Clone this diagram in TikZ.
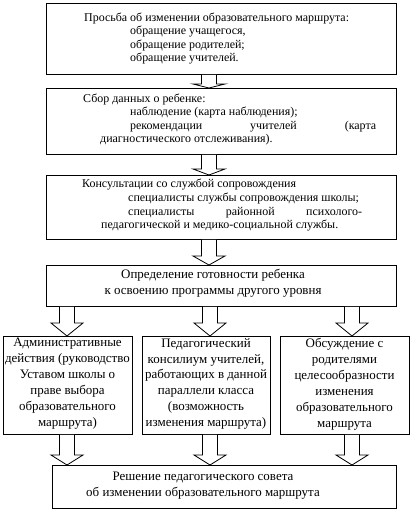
\documentclass[tikz,border=0pt]{standalone}
\usepackage{fontspec}
\setmainfont{Liberation Serif}
\newcommand\fatarrow[4]{%
  \path (#1,0 |- #2.south) coordinate (fa-s) (#1,0 |- #3.north) coordinate (fa-e);
  \draw[fatar] ([xshift=-7.5bp]fa-s) -- ([xshift=-7.5bp,yshift=#4]fa-e)
    -- ([xshift=-16bp,yshift=#4]fa-e) -- (fa-e) -- ([xshift=16bp,yshift=#4]fa-e)
    -- ([xshift=7.5bp,yshift=#4]fa-e) -- ([xshift=7.5bp]fa-s);
}
\begin{document}
\begin{tikzpicture}[x=1bp,y=-1bp,
  box/.style={draw, line width=0.8bp, inner sep=0, anchor=north west},
  tx/.style={inner sep=0, anchor=base west, font=\fontsize{12}{14}\selectfont},
  tc/.style={inner sep=0, anchor=north, align=center, font=\fontsize{13}{16}\selectfont},
  fatar/.style={draw, fill=white, line width=0.8bp, line join=miter}]
\fill[white] (0,0) rectangle (410,513);
\useasboundingbox (0,0) rectangle (410,513);
% boxes
\node[box, minimum width=350bp, minimum height=71bp] (b1) at (46,3) {};
\node[box, minimum width=350bp, minimum height=66bp] (b2) at (46,88) {};
\node[box, minimum width=350bp, minimum height=64bp] (b3) at (46,175) {};
\node[box, minimum width=350bp, minimum height=41bp] (b4) at (46,265) {};
\node[box, minimum width=129bp, minimum height=98bp] (l1) at (3,336) {};
\node[box, minimum width=128bp, minimum height=98bp] (l2) at (142,336) {};
\node[box, minimum width=129bp, minimum height=98bp] (l3) at (280,336) {};
\node[box, minimum width=344bp, minimum height=43bp] (b5) at (52,465) {};
% box 1 text
\node[tx] (t1a) at (84,21.5) {Просьба об изменении образовательного маршрута:};
\node[tx] (t1b) at (130,35) {обращение учащегося,};
\node[tx] (t1c) at (130,48.5) {обращение родителей;};
\node[tx] (t1d) at (130,62) {обращение учителей.};
% box 2 text
\node[tx] (t2a) at (83,102.5) {Сбор данных о ребенке:};
\node[tx] (t2b) at (130,116) {наблюдение (карта наблюдения);};
\node[tx] (t2c) at (130,129.5) {\makebox[246bp][s]{рекомендации\hfill учителей\hfill (карта}};
\node[tx] (t2d) at (100,143) {диагностического отслеживания).};
% box 3 text
\node[tx] (t3a) at (82,188) {Консультации со службой сопровождения};
\node[tx] (t3b) at (128,201.5) {специалисты службы сопровождения школы;};
\node[tx] (t3c) at (128,215) {\makebox[234bp][s]{специалисты\hfill районной\hfill психолого-}};
\node[tx] (t3d) at (101,228.5) {педагогической и медико-социальной службы.};
% box 4 text
\node[tc] (t4) at (213,269) {Определение готовности ребенка\\к освоению программы другого уровня};
% lower boxes text
\node[tc] (tl1) at (67.5,338) {Административные\\действия (руководство\\Уставом школы о\\праве выбора\\образовательного\\маршрута)};
\node[tc] (tl2) at (206,338) {Педагогический\\консилиум учителей,\\работающих в данной\\параллели класса\\(возможность\\изменения маршрута)};
\node[tc] (tl3) at (344.5,338) {Обсуждение с\\родителями\\целесообразности\\изменения\\образовательного\\маршрута};
% bottom text
\node[tc] (t5) at (203,472) {Решение педагогического совета\\об изменении образовательного маршрута};
% arrows
\fatarrow{209}{b1}{b2}{4bp}
\fatarrow{209}{b2}{b3}{6bp}
\fatarrow{209}{b3}{b4}{9bp}
\fatarrow{67}{b4}{l1}{13bp}
\fatarrow{210}{b4}{l2}{13bp}
\fatarrow{352}{b4}{l3}{13bp}
\fatarrow{67}{l1}{b5}{10bp}
\fatarrow{210}{l2}{b5}{10bp}
\fatarrow{352}{l3}{b5}{10bp}
\end{tikzpicture}
\end{document}
